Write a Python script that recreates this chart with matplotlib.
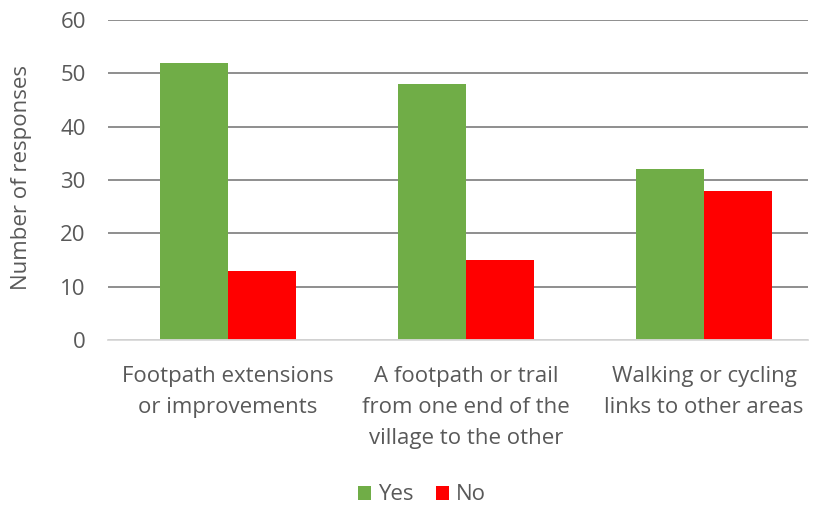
import matplotlib
matplotlib.use("Agg")
import matplotlib.pyplot as plt
import numpy as np

categories = ["Footpath extensions\nor improvements",
              "A footpath or trail\nfrom one end of the\nvillage to the other",
              "Walking or cycling\nlinks to other areas"]
yes_values = [52, 48, 32]
no_values = [13, 15, 28]
y_ticks = [0, 10, 20, 30, 40, 50, 60]

plt.rcParams['font.family'] = ['Open Sans', 'DejaVu Sans']
text_color = '#595959'
fs = 16

fig = plt.figure(figsize=(8.15, 5.05), dpi=100)
ax = fig.add_axes([108/815, (505-340)/505, 700/815, 320/505])

x = np.arange(len(categories))
w = 0.286
ax.bar(x - w/2, yes_values, w, color='#70AD47', label='Yes', zorder=3)
ax.bar(x + w/2, no_values, w, color='#FF0000', label='No', zorder=3)

ax.set_xlim(-0.504, 2.437)
ax.set_ylim(0, 60)
ax.set_yticks(y_ticks)
ax.yaxis.grid(True, color='#868686', linewidth=1.3, zorder=0)
for s in ['top', 'right', 'left']:
    ax.spines[s].set_visible(False)
ax.spines['bottom'].set_color('#D9D9D9')
ax.spines['bottom'].set_linewidth(1.3)
ax.spines['bottom'].set_zorder(4)
ax.tick_params(axis='both', length=0, labelsize=fs, colors=text_color)
ax.tick_params(axis='y', pad=16)
ax.set_xticks(x)
ax.set_xticklabels(categories, linespacing=1.6, va='top')
ax.tick_params(axis='x', pad=19)

fig.text(22/815, (505-177)/505, 'Number of responses', rotation=90, ha='center', va='center',
         fontsize=fs, color=text_color)

fig.legend(loc='center', bbox_to_anchor=(422/815, 10/505), ncol=2, frameon=False,
           fontsize=fs, labelcolor=text_color, handlelength=0.6, handleheight=0.6,
           handletextpad=0.3, columnspacing=1.0)

fig.savefig('out.png', dpi=100)
